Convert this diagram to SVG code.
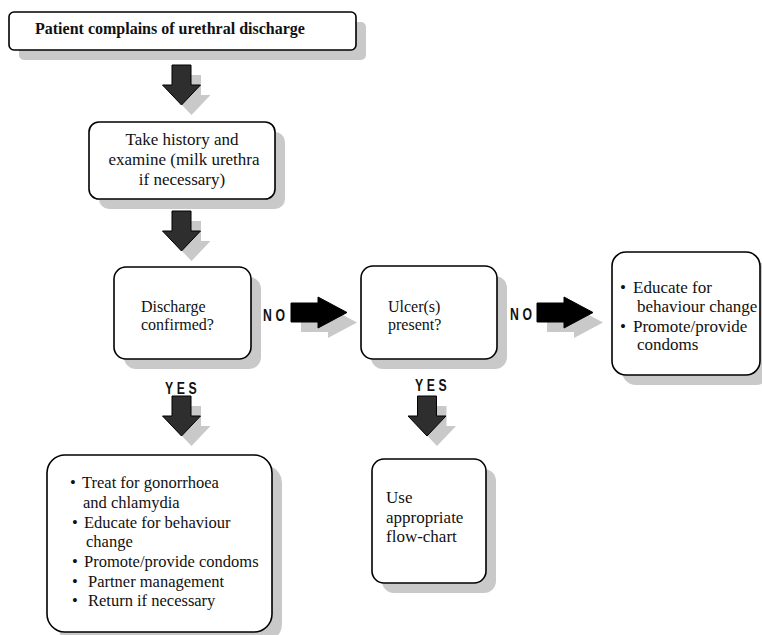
<svg xmlns="http://www.w3.org/2000/svg" width="762" height="635" viewBox="0 0 762 635">
<style>
.box{fill:#fff;stroke:#000;stroke-width:1.6}
.shd{fill:#c9c9c9;stroke:none}
.t{font-family:"Liberation Serif","Times New Roman",serif;font-size:17px;fill:#111}
.tb{font-family:"Liberation Serif","Times New Roman",serif;font-size:16px;font-weight:bold;fill:#111}
.lbl{font-family:"Liberation Sans Narrow","Liberation Sans",Arial,sans-serif;font-size:17px;font-weight:bold;fill:#111;letter-spacing:5px}
.ad{fill:#2e2e2e;stroke:#000;stroke-width:1}
.ar{fill:#000;stroke:#000;stroke-width:1}
</style>
<defs>
<path id="down" d="M-9.5,0 L9.5,0 L9.5,20 L19,20 L0,40 L-19,20 L-9.5,20 Z"/>
<path id="right" d="M0,-9.5 L27,-9.5 L27,-15.5 L56,0 L27,15.5 L27,9.5 L0,9.5 Z"/>
</defs>

<g id="connectors">
  <use href="#down" class="shd" transform="translate(191.5,75)"/>
  <use href="#down" class="ad" transform="translate(181.5,65)"/>
  <use href="#down" class="shd" transform="translate(191.5,221)"/>
  <use href="#down" class="ad" transform="translate(181.5,211)"/>
  <use href="#down" class="shd" transform="translate(191.5,406)"/>
  <use href="#down" class="ad" transform="translate(181.5,396)"/>
  <use href="#down" class="shd" transform="translate(437,406)"/>
  <use href="#down" class="ad" transform="translate(427,396)"/>
  <use href="#right" class="shd" transform="translate(301,322.5)"/>
  <use href="#right" class="ar" transform="translate(291,312.5)"/>
  <use href="#right" class="shd" transform="translate(547,322.5)"/>
  <use href="#right" class="ar" transform="translate(537,312.5)"/>
  <text class="lbl" transform="translate(263,321) scale(0.72,1)">NO</text>
  <text class="lbl" transform="translate(510,320) scale(0.72,1)">NO</text>
  <text class="lbl" transform="translate(165,394) scale(0.72,1)">YES</text>
  <text class="lbl" transform="translate(415,391) scale(0.72,1)">YES</text>
</g>

<g id="n1">
  <rect class="shd" x="19" y="22" width="347" height="38" rx="5"/>
  <rect class="box" x="9" y="12" width="347" height="38" rx="5"/>
  <text class="tb" x="35" y="34">Patient complains of urethral discharge</text>
</g>

<g id="n2">
  <rect class="shd" x="99" y="132" width="186" height="77" rx="10"/>
  <rect class="box" x="89" y="122" width="186" height="77" rx="10"/>
  <text class="t" x="182" y="145" text-anchor="middle">Take history and</text>
  <text class="t" x="184" y="165" text-anchor="middle">examine (milk urethra</text>
  <text class="t" x="182" y="185" text-anchor="middle">if necessary)</text>
</g>

<g id="n3">
  <rect class="shd" x="124" y="277" width="137" height="92" rx="12"/>
  <rect class="box" x="114" y="267" width="137" height="92" rx="12"/>
  <text class="t" x="141" y="312" style="font-size:16px">Discharge</text>
  <text class="t" x="141" y="330" style="font-size:16px">confirmed?</text>
</g>

<g id="n4">
  <rect class="shd" x="371" y="276" width="136" height="93" rx="12"/>
  <rect class="box" x="361" y="266" width="136" height="93" rx="12"/>
  <text class="t" x="388" y="312" style="font-size:16px">Ulcer(s)</text>
  <text class="t" x="388" y="330" style="font-size:16px">present?</text>
</g>

<g id="n5">
  <rect class="shd" x="622" y="262" width="148" height="123" rx="14"/>
  <rect class="box" x="612" y="252" width="148" height="123" rx="14"/>
  <text class="t" x="620" y="293">•</text>
  <text class="t" x="633" y="293">Educate for</text>
  <text class="t" x="637" y="312">behaviour change</text>
  <text class="t" x="620" y="332">•</text>
  <text class="t" x="633" y="332">Promote/provide</text>
  <text class="t" x="637" y="350">condoms</text>
</g>

<g id="n6">
  <rect class="shd" x="57" y="465" width="225" height="177" rx="18"/>
  <rect class="box" x="47" y="455" width="225" height="177" rx="18"/>
  <g class="t" style="font-size:16.5px">
    <text x="70" y="488">•</text>
    <text x="82" y="488">Treat for gonorrhoea</text>
    <text x="83" y="508">and chlamydia</text>
    <text x="72" y="527.5">•</text>
    <text x="84" y="527.5">Educate for behaviour</text>
    <text x="86" y="547">change</text>
    <text x="72" y="567">•</text>
    <text x="84" y="567">Promote/provide condoms</text>
    <text x="72" y="587">•</text>
    <text x="88" y="587">Partner management</text>
    <text x="72" y="606">•</text>
    <text x="88" y="606">Return if necessary</text>
  </g>
</g>

<g id="n7">
  <rect class="shd" x="382" y="469" width="114" height="124" rx="12"/>
  <rect class="box" x="372" y="459" width="114" height="124" rx="12"/>
  <text class="t" x="386" y="503">Use</text>
  <text class="t" x="386" y="523">appropriate</text>
  <text class="t" x="386" y="542">flow-chart</text>
</g>
</svg>
